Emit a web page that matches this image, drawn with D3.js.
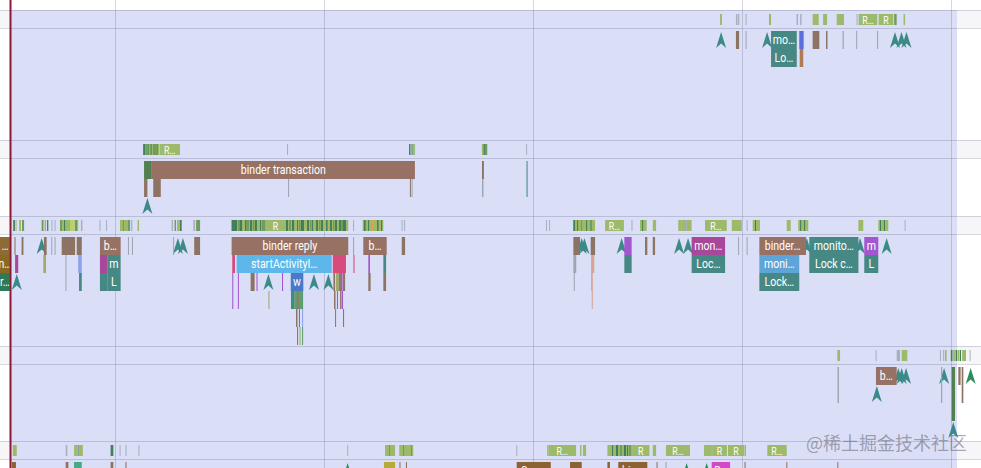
<!DOCTYPE html>
<html><head><meta charset="utf-8">
<script src="https://cdn.jsdelivr.net/npm/d3@7"></script>
<style>html,body{margin:0;padding:0;background:#fff;overflow:hidden}</style>
</head><body>
<script>
// ---------------- DATA (times in ms, relative to selection start) ----------------
const gridTicksMs = [5, 15, 25, 35, 45];
const selectionMs = [0, 45.287];
const viewMs = [-0.5024, 46.435];
const watermarkText = "@稀土掘金技术社区";

// thread states: [start, end, state, label]
const t1States = [
 [33.95,34.04,'runnable'],[34.71,34.78,'sleep'],[34.81,34.87,'sleep'],[35.17,35.22,'sleep'],
 [36.29,36.39,'runnable'],[37.61,37.68,'sleep'],[37.78,37.85,'sleep'],[38.38,38.67,'runnable'],
 [38.88,39.07,'runnable'],[39.53,39.88,'runnable'],[40.48,40.53,'sleep'],
 [40.58,41.47,'runnable','R…'],[41.54,42.24,'runnable','R'],[42.28,42.40,'preempted'],[42.73,42.80,'runnable']
];
// slices: [start, end, depth, category, label]
const t1Slices = [
 [34.71,34.86,0,'misc'],[35.17,35.22,0,'idle'],[36.39,37.62,0,'lock','mo…'],[37.74,37.95,0,'alloc'],
 [38.38,38.70,0,'misc'],[39.02,39.09,0,'misc'],[39.81,39.87,0,'idle'],[40.46,40.51,0,'idle'],[41.46,41.51,0,'idle'],
 [36.39,37.62,1,'lock','Lo…'],[37.76,37.93,1,'gc']
];
// wakeups: [time, depth, kind]
const t1Wakes = [[34.00,0],[36.20,0],[42.32,0],[42.63,0],[42.87,0]];

const t2States = [
 [6.35,7.11,'runnable'],[6.35,6.44,'running'],[6.56,6.60,'running'],[6.70,6.75,'running'],[6.84,6.89,'running'],[6.99,7.03,'running'],
 [6.46,6.53,'preempted'],[6.92,6.97,'preempted'],[7.13,8.11,'runnable','R…'],[13.23,13.28,'sleep'],
 [19.07,19.14,'running'],[19.16,19.21,'runnable'],[19.23,19.28,'running'],[19.31,19.35,'runnable'],
 [22.55,22.63,'runnable'],[22.63,22.70,'running'],[22.70,22.81,'preempted'],[24.67,24.71,'sleep']
];
const t2Slices = [
 [6.39,6.76,0,'choreo'],[6.76,19.35,0,'binder','binder transaction'],[22.56,22.65,0,'misc'],[24.69,24.74,0,'lock'],
 [6.39,6.55,1,'misc'],[6.83,7.19,1,'misc'],[13.28,13.33,1,'idle'],[19.11,19.15,1,'misc'],[19.19,19.23,1,'idle'],
 [22.56,22.63,1,'idle'],[24.69,24.74,1,'lock']
];
const t2Wakes = [[6.55,2]];

const t3States = [
 [0.13,0.21,'running'],[0.24,0.29,'runnable'],[0.41,0.50,'runnable'],[0.55,0.65,'preempted'],
 [1.49,1.58,'preempted'],[1.63,1.70,'runnable'],[1.75,1.81,'running'],[1.96,2.01,'sleep'],[2.11,2.15,'sleep'],
 [2.37,3.24,'runnable'],[2.37,2.46,'preempted'],[2.56,2.61,'running'],[2.85,3.09,'io'],[3.11,3.16,'running'],
 [3.37,3.44,'sleep'],[4.26,4.31,'sleep'],[4.57,4.62,'sleep'],
 [5.24,5.72,'runnable'],[5.38,5.43,'preempted'],[5.62,5.72,'preempted'],[5.77,5.83,'sleep'],[6.08,6.15,'runnable'],
 [7.71,7.78,'sleep'],[7.85,7.92,'preempted'],[7.97,8.06,'runnable'],[8.09,8.19,'running'],
 [8.75,8.83,'sleep'],[8.88,9.07,'preempted'],
 [10.58,16.16,'runnable'],
 [10.58,10.84,'running'],[10.98,11.08,'running'],[11.22,11.29,'running'],[11.46,11.56,'running'],[11.70,11.79,'running'],
 [11.94,11.99,'running'],[13.18,13.28,'running'],[13.47,13.57,'running'],[13.71,13.76,'running'],[13.90,14.04,'running'],
 [14.19,14.28,'running'],[14.43,14.47,'running'],[14.62,14.71,'running'],[14.86,14.95,'running'],[15.10,15.17,'running'],
 [15.29,15.38,'running'],[15.53,15.62,'running'],[15.72,15.81,'running'],[15.91,16.05,'running'],
 [10.89,10.98,'preempted'],[11.32,11.41,'preempted'],[11.60,11.68,'preempted'],[12.03,12.18,'preempted'],[13.33,13.42,'preempted'],
 [13.80,13.88,'preempted'],[14.33,14.40,'preempted'],[14.76,14.83,'preempted'],[15.43,15.50,'preempted'],[15.81,15.91,'preempted'],
 [12.23,13.13,'runnable','R'],
 [16.39,16.44,'sleep'],
 [16.85,17.84,'runnable'],[16.91,16.99,'running'],[17.11,17.15,'running'],[17.28,17.39,'blocked'],[17.54,17.61,'running'],[17.73,17.78,'running'],
 [18.71,18.76,'sleep'],[18.83,18.88,'sleep'],[25.62,25.67,'sleep'],[25.77,25.81,'sleep'],
 [26.93,27.97,'runnable'],[26.93,27.01,'running'],[27.11,27.15,'running'],[27.30,27.34,'preempted'],[27.54,27.58,'running'],[27.73,27.82,'preempted'],
 [28.45,29.35,'runnable','R…'],[29.71,29.76,'sleep'],
 [30.12,30.44,'runnable'],[30.22,30.26,'running'],[30.73,30.89,'runnable'],
 [31.95,32.59,'runnable'],[32.08,32.13,'sleep'],[32.32,32.37,'sleep'],
 [33.23,34.27,'runnable','R…'],[34.51,34.99,'runnable'],[35.22,35.26,'sleep'],
 [35.51,35.86,'runnable'],[35.62,35.67,'running'],[37.14,37.33,'runnable'],
 [37.69,38.17,'runnable'],[37.78,37.82,'running'],[37.97,38.01,'running'],[40.57,40.80,'runnable'],
 [41.52,42.00,'runnable'],[41.60,41.65,'running'],[41.79,41.84,'running'],[42.78,42.82,'sleep']
];
const t3Slices = [
 [-1.0,-0.03,0,'preA','…'],[0.19,0.24,0,'misc'],[0.53,0.62,0,'misc'],[1.60,1.73,0,'misc'],
 [1.95,2.00,0,'idle'],[2.11,2.15,0,'idle'],[2.45,3.09,0,'misc'],[3.17,3.41,0,'misc'],
 [4.28,5.27,0,'binder','b…'],[5.62,5.67,0,'idle'],[5.81,5.86,0,'idle'],[7.78,7.82,0,'idle'],[8.79,9.07,0,'misc'],
 [10.58,16.16,0,'binder','binder reply'],[16.39,16.44,0,'idle'],[16.88,18.00,0,'binder','b…'],[18.72,18.88,0,'misc'],
 [26.93,27.25,0,'misc'],[27.76,27.97,0,'misc'],[29.37,29.72,0,'mutex'],[30.36,30.47,0,'misc'],[30.73,30.84,0,'misc'],
 [32.59,34.19,0,'monitorWait','mon…'],[34.81,34.86,0,'idle'],[35.22,35.26,0,'idle'],
 [35.83,38.06,0,'binder','binder…'],[38.22,40.57,0,'lock','monito…'],[40.85,41.52,0,'mutex','m'],
 [-1.0,-0.03,1,'preB','n…'],[0.22,0.37,1,'monitorWait'],[1.57,1.70,1,'draw'],[2.63,2.68,1,'idle'],[3.24,3.41,1,'inflate'],
 [4.28,4.63,1,'monitorWait'],[4.63,5.27,1,'lock','m'],[10.61,10.74,1,'trace'],
 [10.82,15.37,1,'activity','startActivityI…'],[15.42,16.05,1,'trace'],[16.41,16.46,1,'trace'],
 [17.12,17.20,1,'mutex'],[17.84,17.97,1,'lock'],[26.93,27.07,1,'idle'],[27.78,27.93,1,'measure'],[29.37,29.72,1,'lock'],
 [32.59,34.19,1,'lock','Loc…'],[35.83,37.74,1,'monitorEnter','moni…'],[38.22,40.57,1,'lock','Lock c…'],[40.85,41.52,1,'lock','L'],
 [-1.0,-0.03,2,'preC','r…'],[2.63,2.68,2,'idle'],[3.28,3.41,2,'lock'],[4.28,4.63,2,'lock'],[4.63,5.27,2,'lock','L'],
 [10.61,10.66,2,'mutex'],[10.88,10.92,2,'mutex'],[11.49,11.68,2,'misc'],[11.77,11.82,2,'mutex'],[12.99,13.04,2,'mutex'],
 [13.41,14.01,2,'wait','w'],[15.45,15.53,2,'misc'],[15.57,15.72,2,'draw'],[15.72,15.81,2,'misc'],[15.81,15.89,2,'mutex'],
 [15.91,16.01,2,'misc'],[17.12,17.23,2,'misc'],[17.84,17.97,2,'misc'],[26.95,27.00,2,'idle'],[27.78,27.86,2,'measure'],
 [35.83,37.74,2,'lock','Lock…'],
 [10.61,10.66,3,'mutex'],[10.88,10.92,3,'mutex'],[12.34,12.39,3,'draw'],[13.42,13.57,3,'lock'],[13.57,13.71,3,'layout'],
 [13.71,13.80,3,'misc'],[13.80,14.00,3,'layout'],[15.48,15.55,3,'misc'],[15.62,15.67,3,'mutex'],[15.77,15.84,3,'misc'],
 [15.86,15.91,3,'mutex'],[27.81,27.86,3,'measure'],
 [13.66,13.73,4,'misc'],[13.80,13.85,4,'lock'],[13.95,14.00,4,'inflate'],[15.53,15.57,4,'misc'],[15.91,15.96,4,'misc'],
 [13.71,13.76,5,'misc'],[13.83,13.88,5,'draw'],[13.95,14.00,5,'layout']
];
const t3Wakes = [
 [1.49,0],[8.01,0],[8.25,0],[27.33,0],[27.46,0],[29.24,0],[31.99,0],[32.42,0],[38.10,0],[40.65,0],[41.92,0],
 [0.30,2],[12.34,2],[14.52,2],[15.21,2]
];

const t4States = [
 [39.56,39.69,'runnable'],[41.39,41.44,'sleep'],[42.40,42.56,'sleep'],[42.64,42.91,'runnable'],
 [44.47,44.52,'sleep'],[44.62,44.67,'sleep'],[44.71,44.79,'runnable'],
 [44.99,45.07,'running'],[45.10,45.19,'runnable'],[45.22,45.29,'running'],[45.31,45.41,'runnable'],
 [45.43,45.48,'running'],[45.53,45.72,'runnable'],[45.89,45.93,'sleep']
];
const t4Slices = [
 [39.57,39.64,0,'idle'],[39.57,39.64,1,'idle'],[41.41,42.40,0,'binder','b…'],
 [44.52,44.58,0,'idle'],[44.52,44.58,1,'idle'],
 [45.03,45.19,0,'choreo'],[45.03,45.19,1,'choreo'],[45.03,45.19,2,'choreo'],
 [45.35,45.46,0,'misc'],[45.51,45.59,0,'misc'],[45.51,45.59,1,'misc']
];
const t4Wakes = [[42.48,0],[42.64,0],[42.85,0],[44.67,0],[45.94,0,'wakeGreen'],[41.45,1],[45.11,3]];

const t5States = [
 [0.11,0.30,'runnable'],[2.64,2.72,'sleep'],[3.04,3.18,'runnable'],[3.21,3.25,'running'],[3.28,3.46,'runnable'],
 [4.79,4.92,'running'],[5.22,5.26,'sleep'],[5.50,5.55,'sleep'],[6.12,6.17,'sleep'],[16.11,16.16,'sleep'],
 [17.92,18.40,'runnable'],[18.11,18.16,'preempted'],[18.60,19.27,'runnable'],[18.78,18.83,'preempted'],[19.16,19.21,'preempted'],
 [24.20,24.24,'sleep'],[25.67,25.72,'sleep'],[25.73,27.06,'runnable','R…'],[27.25,27.32,'runnable'],[27.39,27.54,'runnable'],
 [28.56,29.74,'runnable'],[28.78,28.83,'running'],[28.97,29.07,'running'],[29.16,29.26,'preempted'],[29.35,29.45,'running'],
 [29.50,29.55,'running'],[29.59,29.69,'preempted'],[29.74,30.57,'runnable','R'],[30.73,30.89,'runnable'],
 [31.36,32.51,'runnable','R…'],[33.18,33.56,'runnable'],[33.57,34.28,'runnable','R'],[34.33,35.10,'runnable','R'],
 [35.12,35.19,'runnable'],[36.21,37.14,'runnable','R…']
];
const t5Slices = [
 [0.07,0.26,0,'conn'],[2.64,2.77,0,'misc'],[3.04,3.41,0,'sync'],[4.79,4.92,0,'misc'],[5.50,5.55,0,'misc'],
 [17.87,18.40,0,'render'],[18.61,18.66,0,'misc'],[18.92,18.97,0,'misc'],
 [24.22,25.85,0,'conn','Con…'],[26.77,27.33,0,'conn'],[28.56,28.68,0,'conn'],[29.08,30.47,0,'conn','bin…'],
 [30.91,30.96,0,'misc'],[31.34,31.39,0,'idle'],[33.55,34.43,0,'dispatch','D…'],
 [35.12,35.17,0,'misc'],[37.12,37.16,0,'misc'],[39.56,39.60,0,'misc']
];
const t5Wakes = [[16.13,0,'wakeGreen'],[17.97,0,'wakeGreen'],[32.35,0,'wakeGreen'],[33.31,0,'wakeGreen']];

// ---------------- STYLE / LAYOUT ----------------
const W = 981, H = 468;
const stateColor = d3.scaleOrdinal()
  .domain(['runnable','running','preempted','sleep','io','blocked'])
  .range(['#9dba6b','#427e58','#6f9c62','#a8b0bf','#b9d074','#e2a04e']);
const sliceColor = d3.scaleOrdinal()
  .domain(['binder','misc','idle','lock','monitorWait','monitorEnter','activity','wait','trace','mutex','alloc','gc',
           'inflate','measure','draw','layout','choreo','preA','preB','preC','conn','render','sync','dispatch'])
  .range(['#977264','#8d7363','#9ea6b4','#468884','#a7489b','#5ea4d7','#5db7ea','#4a79c6','#d8497d','#a455d0','#5b6ddf','#b07a55',
          '#8ba1eb','#d9a38f','#9faa6c','#5c9f70','#527f50','#8e6a34','#8a6a22','#2e7a56','#8c6232','#b5aa3a','#44aa88','#d449cb']);
const wakeColor = d3.scaleOrdinal().domain(['wake','wakeGreen']).range(['#3b8a88','#2f8c5c']);

const tracks = [
  {top:10,  states:t1States, slices:t1Slices, wakes:t1Wakes},
  {top:140, states:t2States, slices:t2Slices, wakes:t2Wakes},
  {top:216, states:t3States, slices:t3Slices, wakes:t3Wakes},
  {top:346, states:t4States, slices:t4Slices, wakes:t4Wakes},
  {top:441, states:t5States, slices:t5Slices, wakes:t5Wakes}
];
const STATE_ROW = 18, ROW_H = 18, FONT = "Roboto, 'Noto Sans', sans-serif";

const x = d3.scaleLinear().domain(viewMs).range([0, W]);

const svg = d3.select('body').append('svg').attr('width', W).attr('height', H)
  .style('display','block').style('font-family', FONT);
svg.append('rect').attr('width', W).attr('height', H).attr('fill', '#ffffff');

// state-row header bands
svg.append('g').selectAll('rect').data(tracks).join('rect')
  .attr('x', 0).attr('width', W).attr('y', d => d.top).attr('height', STATE_ROW).attr('fill', '#f6f6f9');

// selection area
svg.append('rect').attr('x', x(selectionMs[0])).attr('width', x(selectionMs[1]) - x(selectionMs[0]))
  .attr('y', 10).attr('height', H - 10).attr('fill', '#dadef6');

// vertical grid lines
svg.append('g').selectAll('line').data(gridTicksMs).join('line')
  .attr('x1', d => Math.round(x(d)) + 0.5).attr('x2', d => Math.round(x(d)) + 0.5)
  .attr('y1', 0).attr('y2', H).attr('stroke', 'rgba(70,75,110,0.22)').attr('stroke-width', 1);

// horizontal track lines
const hLines = tracks.flatMap(t => [t.top, t.top + STATE_ROW]);
svg.append('g').selectAll('line').data(hLines).join('line')
  .attr('x1', 0).attr('x2', W).attr('y1', d => d + 0.5).attr('y2', d => d + 0.5)
  .attr('stroke', 'rgba(70,75,110,0.22)').attr('stroke-width', 1);

function labelX(d) {
  const a = Math.max(0, x(d[0])), b = Math.min(W, x(d[1]));
  return (a + b) / 2;
}

tracks.forEach(tr => {
  const g = svg.append('g');
  const sy = tr.top + 4, sh = 11, slY = tr.top + STATE_ROW + 3;

  g.selectAll('rect.st').data(tr.states).join('rect').attr('class', 'st')
    .attr('x', d => x(d[0])).attr('width', d => Math.max(1, x(d[1]) - x(d[0])))
    .attr('y', sy).attr('height', sh).attr('fill', d => stateColor(d[2]));

  g.selectAll('text.stl').data(tr.states.filter(d => d[3])).join('text').attr('class', 'stl')
    .attr('transform', d => `translate(${labelX(d)},${sy + sh / 2 + 0.5}) scale(0.88,1)`)
    .attr('text-anchor', 'middle').attr('dominant-baseline', 'central')
    .attr('font-size', 10).attr('fill', '#ffffff').text(d => d[3]);

  g.selectAll('path.wk').data(tr.wakes).join('path').attr('class', 'wk')
    .attr('d', d => {
      const cx = x(d[0]), y0 = slY + d[1] * ROW_H;
      return `M${cx},${y0 + 1}L${cx + 5},${y0 + 17}L${cx},${y0 + 12.5}L${cx - 5},${y0 + 17}Z`;
    })
    .attr('fill', d => wakeColor(d[2] || 'wake'));

  g.selectAll('rect.sl').data(tr.slices).join('rect').attr('class', 'sl')
    .attr('x', d => x(d[0])).attr('width', d => Math.max(1, x(d[1]) - x(d[0])))
    .attr('y', d => slY + d[2] * ROW_H).attr('height', ROW_H).attr('fill', d => sliceColor(d[3]));

  g.selectAll('text.sll').data(tr.slices.filter(d => d[4])).join('text').attr('class', 'sll')
    .attr('transform', d => `translate(${labelX(d)},${slY + d[2] * ROW_H + ROW_H / 2}) scale(0.88,1)`)
    .attr('text-anchor', 'middle').attr('dominant-baseline', 'central')
    .attr('font-size', 12).attr('fill', '#ffffff').text(d => d[4]);
});

// selection start marker
svg.append('line').attr('x1', x(selectionMs[0])).attr('x2', x(selectionMs[0]))
  .attr('y1', 0).attr('y2', H).attr('stroke', '#8e1838').attr('stroke-width', 2);

// watermark
svg.append('text').attr('x', 806).attr('y', 450)
  .attr('font-family', "'Noto Sans CJK SC', sans-serif").attr('font-size', 18)
  .attr('fill', 'rgba(100,100,112,0.55)').text(watermarkText);
</script>
</body></html>
